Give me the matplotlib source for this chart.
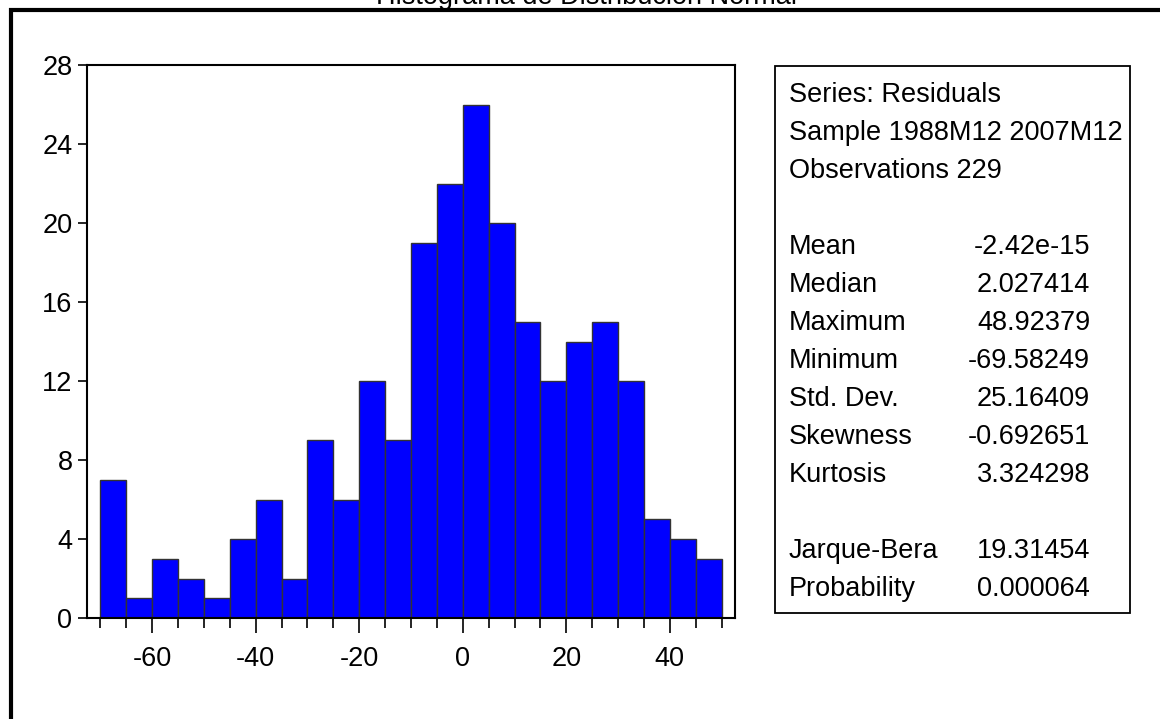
import matplotlib.pyplot as plt
from matplotlib.lines import Line2D
from matplotlib.patches import Rectangle

plt.rcParams['font.family'] = ['Liberation Sans', 'DejaVu Sans']
plt.rcParams['axes.unicode_minus'] = False

# residual histogram, bins of width 5 from -70 to 50
bin_left = [-70, -65, -60, -55, -50, -45, -40, -35, -30, -25, -20, -15,
            -10, -5, 0, 5, 10, 15, 20, 25, 30, 35, 40, 45]
counts = [7, 1, 3, 2, 1, 4, 6, 2, 9, 6, 12, 9,
          19, 22, 26, 20, 15, 12, 14, 15, 12, 5, 4, 3]
bin_width = 5

title = "Histograma de Distribución Normal"
header = ["Series: Residuals", "Sample 1988M12 2007M12", "Observations 229"]
stat_names = ["Mean", "Median", "Maximum", "Minimum", "Std. Dev.", "Skewness", "Kurtosis"]
stat_values = ["-2.42e-15", "2.027414", "48.92379", "-69.58249", "25.16409", "-0.692651", "3.324298"]
test_names = ["Jarque-Bera", "Probability"]
test_values = ["19.31454", "0.000064"]

W, H = 1160, 719
fig = plt.figure(figsize=(W / 100, H / 100), dpi=100)
fs = 19.5

ax = fig.add_axes([87 / W, 1 - 618 / H, (735 - 87) / W, (618 - 65) / H])
ax.bar(bin_left, counts, width=bin_width, align='edge', color='#0000FF',
       edgecolor='#333333', linewidth=1)
ax.set_xlim(-72.6, 52.6)
ax.set_ylim(0, 28)
ax.set_yticks(range(0, 29, 4))
ax.set_xticks([-60, -40, -20, 0, 20, 40])
ax.set_xticks(range(-70, 51, 5), minor=True)
for s in ax.spines.values():
    s.set_linewidth(1.5)
ax.tick_params(axis='y', direction='out', length=6.5, width=1.2, pad=4, labelsize=fs)
ax.tick_params(axis='x', which='major', direction='out', length=11, width=1.2, pad=9, labelsize=fs)
ax.tick_params(axis='x', which='minor', direction='out', length=7, width=1.2)

# stats box
fig.add_artist(Rectangle((775 / W, 1 - 613 / H), (1130 - 775) / W, (613 - 66) / H,
                         transform=fig.transFigure, fill=False, edgecolor='black', linewidth=1.3))

def row_y(i):
    return 1 - (95 + i * 38.0) / H

for i, t in enumerate(header):
    fig.text(789 / W, row_y(i), t, fontsize=fs, va='center', ha='left')
for i, (n, v) in enumerate(zip(stat_names, stat_values)):
    fig.text(789 / W, row_y(4 + i), n, fontsize=fs, va='center', ha='left')
    fig.text(1090 / W, row_y(4 + i), v, fontsize=fs, va='center', ha='right')
for i, (n, v) in enumerate(zip(test_names, test_values)):
    fig.text(789 / W, row_y(12 + i), n, fontsize=fs, va='center', ha='left')
    fig.text(1090 / W, row_y(12 + i), v, fontsize=fs, va='center', ha='right')

# outer frame (top and left edges) and title sitting just above it
fig.add_artist(Line2D([9 / W, 1], [1 - 10 / H, 1 - 10 / H], transform=fig.transFigure,
                      color='black', linewidth=3, solid_capstyle='butt'))
fig.add_artist(Line2D([11 / W, 11 / W], [1 - 8 / H, 0], transform=fig.transFigure,
                      color='black', linewidth=3, solid_capstyle='butt'))
fig.text(587 / W, 1 - 4 / H, title, fontsize=fs, ha='center', va='baseline')

fig.savefig('out.png', dpi=100)
